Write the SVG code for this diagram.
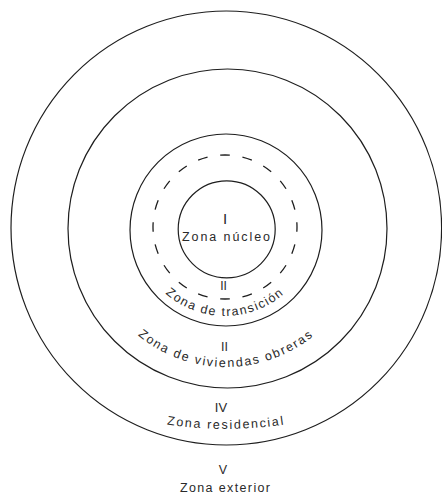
<svg xmlns="http://www.w3.org/2000/svg" width="442" height="501" viewBox="0 0 442 501">
<style>
.ring{fill:none;stroke:#1e1e1e;stroke-width:1.2}
.dash{fill:none;stroke:#1e1e1e;stroke-width:1.3;stroke-dasharray:10 13;stroke-dashoffset:5}
.t{font-family:"Liberation Sans",Arial,sans-serif;font-size:12.5px;fill:#2a2a2a}
.n{font-family:"Liberation Sans",Arial,sans-serif;font-size:12.5px;fill:#2a2a2a;text-anchor:middle}
</style>
<defs>
<path id="pTrans" d="M 161.4 289.6 A 90 90 0 0 0 288.6 289.6"/>
<path id="pObr" d="M 128.4 326.6 A 138 138 0 0 0 323.6 326.6"/>
<path id="pRes" d="M 150 421.6 A 400 400 0 0 0 302 421.6"/>
</defs>
<rect width="442" height="501" fill="#fff"/>
<g id="zona-exterior">
<ellipse class="ring" cx="226.3" cy="228" rx="215.3" ry="217"/>
<text class="n" x="223" y="474" font-size="12">V</text>
<text class="t" x="180" y="492" textLength="90" lengthAdjust="spacing">Zona exterior</text>
</g>
<g id="zona-residencial">
<circle class="ring" cx="227.5" cy="228.5" r="159.5"/>
<text class="n" x="221" y="412" style="font-size:13px">IV</text>
<text class="t" style="letter-spacing:1.7px"><textPath href="#pRes" startOffset="50%" text-anchor="middle">Zona residencial</textPath></text>
</g>
<g id="zona-viviendas-obreras">
<circle class="ring" cx="226" cy="230" r="96"/>
<text class="n" x="224.5" y="351">II</text>
<text class="t" style="letter-spacing:1.75px"><textPath href="#pObr" startOffset="50%" text-anchor="middle">Zona de viviendas obreras</textPath></text>
</g>
<g id="zona-transicion">
<circle class="dash" cx="225" cy="227" r="72" pathLength="460"/>
<text class="n" x="223.5" y="290" style="font-size:12px">II</text>
<text class="t" style="letter-spacing:1.5px"><textPath href="#pTrans" startOffset="50%" text-anchor="middle">Zona de transición</textPath></text>
</g>
<g id="zona-nucleo">
<circle class="ring" cx="226.7" cy="229.3" r="48.5"/>
<text class="n" x="225" y="224" style="font-size:15px">I</text>
<text class="t" x="182" y="241" textLength="88" lengthAdjust="spacing">Zona núcleo</text>
</g>
<g id="connectors"></g>
</svg>
